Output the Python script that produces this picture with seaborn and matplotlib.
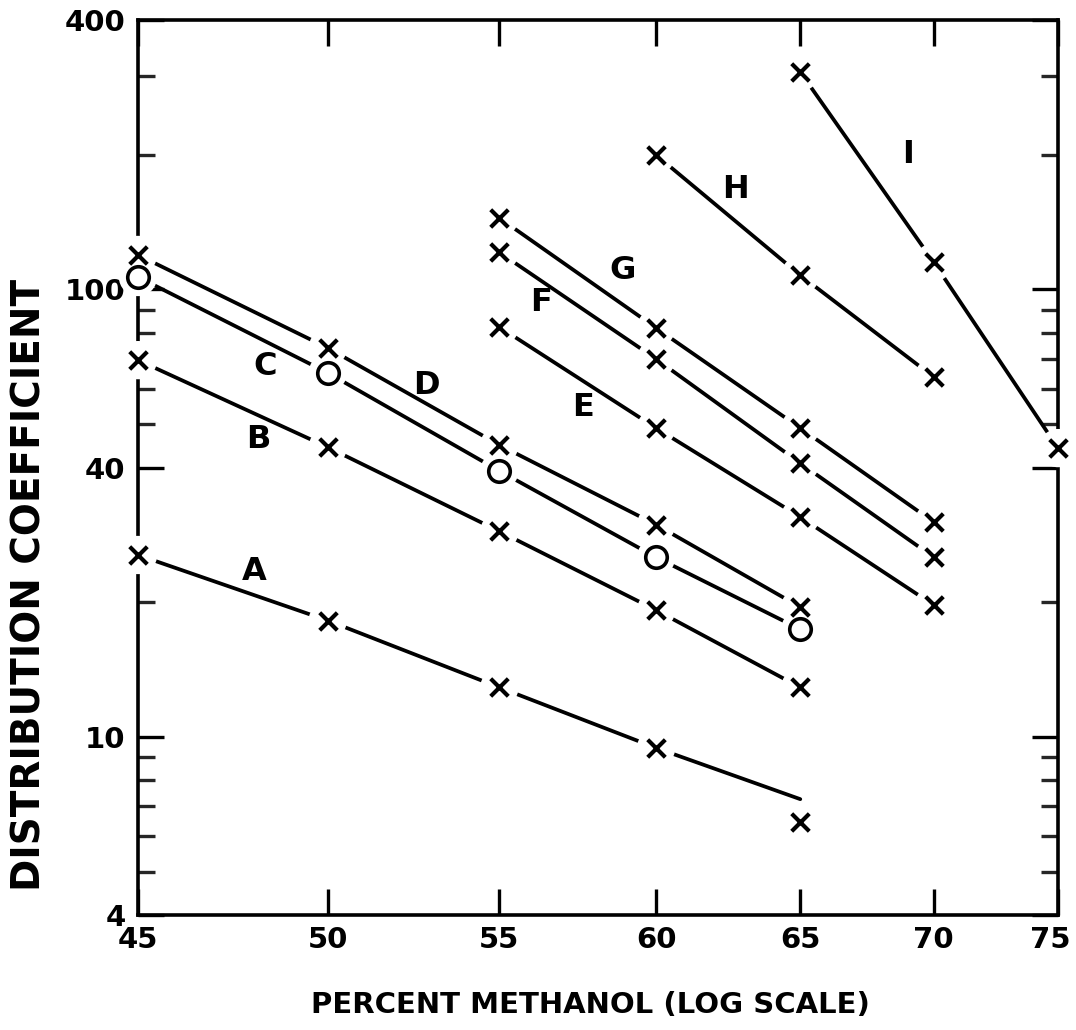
import numpy as np
import pandas as pd
import matplotlib
matplotlib.use("Agg")
import matplotlib.pyplot as plt
import matplotlib.transforms as mtransforms
import seaborn as sns
from matplotlib.ticker import NullFormatter, FixedLocator

# ---------------- data ----------------
series_names = ["A", "B", "C", "D", "E", "F", "G", "H", "I"]
methanol_45_65 = [45, 50, 55, 60, 65]
methanol_55_70 = [55, 60, 65, 70]
methanol_60_70 = [60, 65, 70]
methanol_65_75 = [65, 70, 75]

A_vals = [25.5, 18.2, 12.9, 9.45, 6.45]
A_line = [25.5, 18.2, 12.9, 9.45, 7.26]   # drawn line ends above the last point
B_vals = [69.5, 44.4, 28.8, 19.2, 12.9]
C_vals = [106.6, 65.1, 39.3, 25.2, 17.4]   # open circles
D_vals = [119.4, 74.0, 44.9, 29.8, 19.5]
E_vals = [82.4, 49.0, 31.0, 19.7]
F_vals = [121.0, 69.9, 40.9, 25.2]
G_vals = [144.4, 82.0, 49.0, 30.2]
H_vals = [199.7, 107.6, 63.7]
I_vals = [306.0, 115.0, 44.2]

x_ticks = [45, 50, 55, 60, 65, 70, 75]
y_major = [4, 10, 40, 100, 400]
y_minor = [5, 6, 7, 8, 9, 20, 50, 60, 70, 80, 90, 200, 300]

series = {
    "A": (methanol_45_65, A_vals, A_line, "x"),
    "B": (methanol_45_65, B_vals, B_vals, "x"),
    "C": (methanol_45_65, C_vals, C_vals, "o"),
    "D": (methanol_45_65, D_vals, D_vals, "x"),
    "E": (methanol_55_70, E_vals, E_vals, "x"),
    "F": (methanol_55_70, F_vals, F_vals, "x"),
    "G": (methanol_55_70, G_vals, G_vals, "x"),
    "H": (methanol_60_70, H_vals, H_vals, "x"),
    "I": (methanol_65_75, I_vals, I_vals, "x"),
}

line_rows, pt_rows = [], []
for name in series_names:
    xs, ys, yl, mk = series[name]
    for x, y in zip(xs, yl):
        line_rows.append({"series": name, "x": x, "y": y})
    for x, y in zip(xs, ys):
        pt_rows.append({"series": name, "x": x, "y": y, "marker": mk})
df_lines = pd.DataFrame(line_rows)
df_pts = pd.DataFrame(pt_rows)

# ---------------- style ----------------
sns.set_theme(style="ticks")
plt.rcParams["font.family"] = ["DejaVu Sans"]
plt.rcParams["text.color"] = "black"
plt.rcParams["axes.labelcolor"] = "black"

fig = plt.figure(figsize=(10.76, 10.30), dpi=100)
ax = fig.add_axes([138 / 1076, 1 - 915 / 1030, (1058 - 138) / 1076, (915 - 20) / 1030])
ax.set_facecolor("white")
fig.patch.set_facecolor("white")

ax.set_xscale("log")
ax.set_yscale("log")
ax.set_xlim(45, 75)
ax.set_ylim(4, 400)

sns.lineplot(data=df_lines, x="x", y="y", units="series", estimator=None,
             sort=False, color="black", linewidth=2.7, ax=ax, legend=False, zorder=2)

# white gaps around every data point (also breaking the frame at the edges)
ax.scatter(df_pts["x"], df_pts["y"], s=760, color="white", edgecolors="none",
           zorder=4, clip_on=False)

dx = df_pts[df_pts["marker"] == "x"]
do = df_pts[df_pts["marker"] == "o"]
sns.scatterplot(data=dx, x="x", y="y", marker="x", color="black", s=160,
                linewidth=3.0, ax=ax, legend=False, zorder=5, clip_on=False)
sns.scatterplot(data=do, x="x", y="y", marker="o", color="white", edgecolor="black",
                s=240, linewidth=2.6, ax=ax, legend=False, zorder=5, clip_on=False)

# curve labels
label_pos = {"A": (48.0, 23.4), "B": (48.1, 46.1), "C": (48.3, 67.1),
             "D": (52.8, 61.1), "E": (57.6, 54.6), "F": (56.3, 93.7),
             "G": (58.9, 110.5), "H": (62.7, 166.9), "I": (69.0, 200.0)}
for name in series_names:
    lx, ly = label_pos[name]
    ax.text(lx, ly, name, fontsize=23, fontweight="bold", ha="center", va="center",
            color="black", zorder=6)

# ticks
ax.xaxis.set_major_locator(FixedLocator(x_ticks))
ax.xaxis.set_minor_locator(FixedLocator([]))
ax.set_xticks(x_ticks)
ax.set_xticklabels([str(v) for v in x_ticks])
ax.xaxis.set_minor_formatter(NullFormatter())

ax.yaxis.set_major_locator(FixedLocator(y_major))
ax.set_yticks(y_major)
ax.set_yticklabels([str(v) for v in y_major])
ax.yaxis.set_minor_locator(FixedLocator(y_minor))
ax.yaxis.set_minor_formatter(NullFormatter())

ax.tick_params(axis="both", which="major", direction="in", length=19, width=2.4,
               top=True, right=True, labelsize=21, colors="black")
ax.tick_params(axis="both", which="minor", direction="in", length=12, width=2.4,
               top=True, right=True)
ax.tick_params(axis="y", which="major", pad=9)
ax.tick_params(axis="x", which="major", pad=8)
for lab in ax.get_xticklabels() + ax.get_yticklabels():
    lab.set_fontweight("bold")

# keep the last x tick label inside the canvas
last = ax.get_xticklabels()[-1]
last.set_transform(last.get_transform() +
                   mtransforms.ScaledTranslation(-8 / 100, 0, fig.dpi_scale_trans))

for sp in ax.spines.values():
    sp.set_linewidth(2.6)
    sp.set_color("black")
    sp.set_zorder(3)

ax.set_xlabel("PERCENT METHANOL (LOG SCALE)", fontsize=21, fontweight="bold", color="black")
ax.set_ylabel("DISTRIBUTION COEFFICIENT", fontsize=28, fontweight="bold", color="black")
ax.xaxis.set_label_coords((590 - 138) / 920, (915 - 1005) / 895)
ax.yaxis.set_label_coords((30 - 138) / 920, (915 - 585) / 895)
ax.xaxis.label.set_va("center")
ax.yaxis.label.set_va("center")
ax.grid(False)

fig.savefig("out.png", dpi=100, facecolor="white")
